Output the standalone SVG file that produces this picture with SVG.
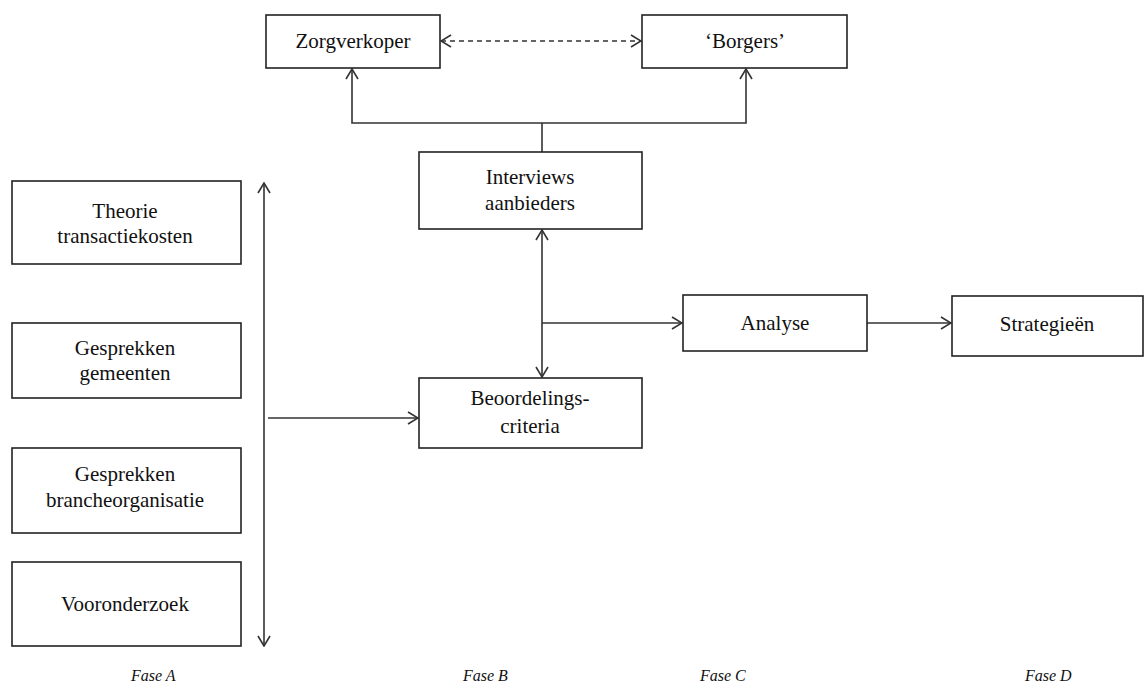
<svg xmlns="http://www.w3.org/2000/svg" width="1147" height="691" viewBox="0 0 1147 691">
<style>
.box{fill:#fff;stroke:#222;stroke-width:1.6}
.lbl{font-family:"Liberation Serif","Times New Roman",serif;font-size:21px;fill:#111;text-anchor:middle}
.fase{font-family:"Liberation Serif","Times New Roman",serif;font-size:16px;font-style:italic;fill:#111}
.ln{fill:none;stroke:#333;stroke-width:1.6}
.dash{stroke-dasharray:5 4}
</style>
<defs>
<marker id="ah" viewBox="0 0 12 14" refX="11" refY="7" markerWidth="12" markerHeight="14" markerUnits="userSpaceOnUse" orient="auto-start-reverse">
<path d="M1,1 L11,7 L1,13" fill="none" stroke="#333" stroke-width="1.6"/>
</marker>
</defs>
<rect width="1147" height="691" fill="#fff"/>
<g id="connectors">
<line class="ln dash" x1="441" y1="41" x2="641" y2="41" marker-start="url(#ah)" marker-end="url(#ah)"/>
<polyline class="ln" points="352,69 352,123 746,123 746,69" marker-start="url(#ah)" marker-end="url(#ah)"/>
<line class="ln" x1="542" y1="123" x2="542" y2="152"/>
<line class="ln" x1="542" y1="230" x2="542" y2="377" marker-start="url(#ah)" marker-end="url(#ah)"/>
<line class="ln" x1="542" y1="323" x2="682" y2="323" marker-end="url(#ah)"/>
<line class="ln" x1="867" y1="323" x2="951" y2="323" marker-end="url(#ah)"/>
<line class="ln" x1="264" y1="183" x2="264" y2="646" marker-start="url(#ah)" marker-end="url(#ah)"/>
<line class="ln" x1="268" y1="418" x2="418" y2="418" marker-end="url(#ah)"/>
</g>
<g id="zorgverkoper"><rect class="box" x="266" y="15" width="174" height="53"/><text class="lbl" x="353" y="48">Zorgverkoper</text></g>
<g id="borgers"><rect class="box" x="642" y="15" width="205" height="53"/><text class="lbl" x="745" y="48">‘Borgers’</text></g>
<g id="interviews"><rect class="box" x="419" y="152" width="223" height="77"/><text class="lbl" x="530" y="184">Interviews</text><text class="lbl" x="530" y="210">aanbieders</text></g>
<g id="analyse"><rect class="box" x="683" y="295" width="184" height="56"/><text class="lbl" x="775" y="330">Analyse</text></g>
<g id="strategieen"><rect class="box" x="952" y="296" width="191" height="60"/><text class="lbl" x="1047" y="331">Strategieën</text></g>
<g id="beoordelings"><rect class="box" x="419" y="378" width="223" height="70"/><text class="lbl" x="530" y="405">Beoordelings-</text><text class="lbl" x="530" y="433">criteria</text></g>
<g id="theorie"><rect class="box" x="12" y="181" width="229" height="83"/><text class="lbl" x="125" y="218">Theorie</text><text class="lbl" x="125" y="243">transactiekosten</text></g>
<g id="gemeenten"><rect class="box" x="12" y="323" width="229" height="75"/><text class="lbl" x="125" y="355">Gesprekken</text><text class="lbl" x="125" y="380">gemeenten</text></g>
<g id="branche"><rect class="box" x="12" y="448" width="229" height="85"/><text class="lbl" x="125" y="481">Gesprekken</text><text class="lbl" x="125" y="507">brancheorganisatie</text></g>
<g id="vooronderzoek"><rect class="box" x="12" y="562" width="229" height="84"/><text class="lbl" x="125" y="611">Vooronderzoek</text></g>
<g id="fases">
<text class="fase" x="131" y="681">Fase A</text>
<text class="fase" x="463" y="681">Fase  B</text>
<text class="fase" x="700" y="681">Fase C</text>
<text class="fase" x="1025" y="681">Fase D</text>
</g>
</svg>
